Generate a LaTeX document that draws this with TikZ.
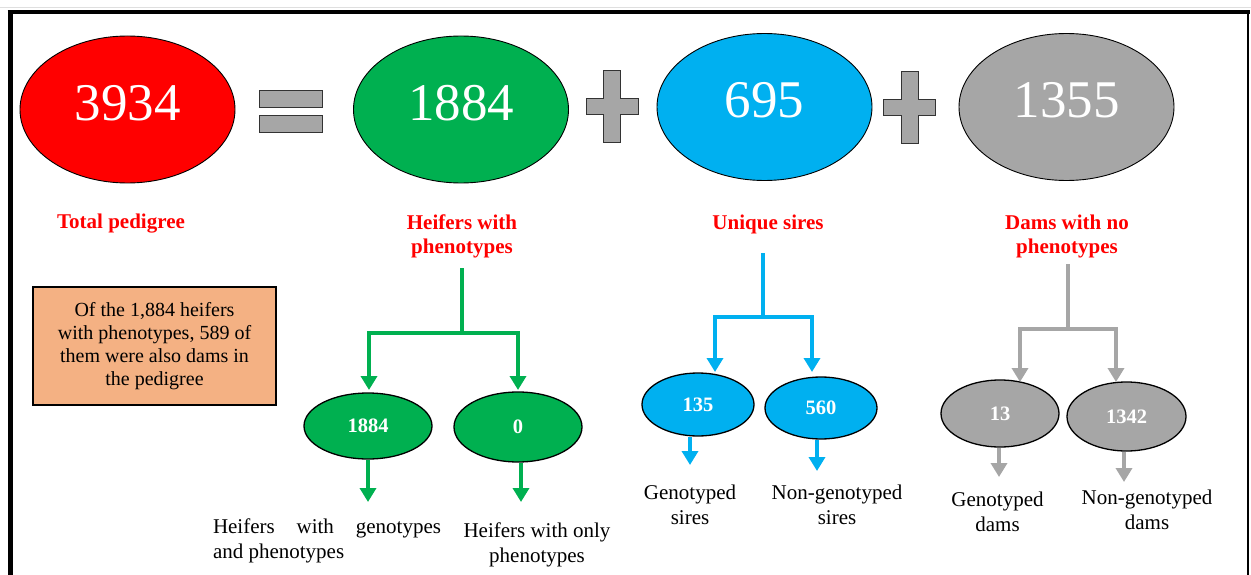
\documentclass[tikz,border=0pt]{standalone}
\usepackage{fontspec}
\setmainfont{Liberation Serif}
\usetikzlibrary{shapes.geometric,arrows.meta}
\definecolor{cRed}{HTML}{FF0000}
\definecolor{cGreen}{HTML}{00B050}
\definecolor{cBlue}{HTML}{00B0F0}
\definecolor{cGrey}{HTML}{A6A6A6}
\definecolor{cSalmon}{HTML}{F4B183}
\begin{document}
\begin{tikzpicture}[x=1pt,y=-1pt,
  bigoval/.style={ellipse, draw=black, line width=0.9pt, inner sep=0pt,
    minimum width=215pt, minimum height=147pt, text=white,
    font=\fontsize{53}{60}\selectfont},
  smalloval/.style={ellipse, draw=black, line width=1.3pt, inner sep=0pt,
    text=white, font=\bfseries\fontsize{20.5}{24}\selectfont},
  headlabel/.style={text=cRed, font=\bfseries\fontsize{21}{24}\selectfont,
    align=center, inner sep=0pt},
  leaflabel/.style={text=black, font=\fontsize{21}{25}\selectfont,
    align=center, inner sep=0pt},
  branch/.style={line width=3.5pt, -{Triangle[width=16pt,length=14pt]}},
  opsym/.style={fill=cGrey, draw=black!80, line width=1pt},
  plussign/.pic={\path[opsym] (-8.5,-36) -- (8.5,-36) -- (8.5,-8) -- (26,-8)
    -- (26,8) -- (8.5,8) -- (8.5,36) -- (-8.5,36) -- (-8.5,8) -- (-26,8)
    -- (-26,-8) -- (-8.5,-8) -- cycle;}
]
\useasboundingbox (0,0) rectangle (1251,575);

% frame
\draw[gray!25, line width=1pt] (0,7.5) -- (1251,7.5);
\draw[line width=5pt] (10,10.5) -- (10,580);
\draw[line width=4pt] (7.5,12.5) -- (1249.5,12.5);
\draw[line width=2.5pt] (1248,11) -- (1248,580);

% totals
\node[bigoval, fill=cRed]   (e0) at (127.5,109.5) {\raisebox{14pt}{3934}};
\node[bigoval, fill=cGreen] (e1) at (461,109.5)   {\raisebox{14pt}{1884}};
\node[bigoval, fill=cBlue]  (e2) at (764.5,107)   {\raisebox{14pt}{695}};
\node[bigoval, fill=cGrey]  (e3) at (1066.5,107)  {\raisebox{14pt}{1355}};

% operators
\path[opsym] (259,91) rectangle (322,108);
\path[opsym] (259,116) rectangle (322,133);
\pic at (612,107) {plussign};
\pic at (909.5,107.5) {plussign};

% headings
\node[headlabel] (tl) at (121,224)  {Total pedigree};
\node[headlabel] (hl) at (462,236)  {Heifers with\\phenotypes};
\node[headlabel] (ul) at (768,224)  {Unique sires};
\node[headlabel] (dl) at (1067,236) {Dams with no\\phenotypes};

% note
\node[draw=black, line width=2pt, fill=cSalmon, minimum width=243pt,
  minimum height=118pt, align=center, inner sep=0pt,
  font=\fontsize{20}{23}\selectfont] (note) at (154.5,346)
  {Of the 1,884 heifers\\with phenotypes, 589 of\\them were also dams in\\the pedigree};

% subgroups
\node[smalloval, fill=cGreen, minimum width=128pt, minimum height=66pt] (g1) at (368,426)    {1884};
\node[smalloval, fill=cGreen, minimum width=128pt, minimum height=70pt] (g2) at (518,427)    {0};
\node[smalloval, fill=cBlue,  minimum width=112pt, minimum height=63pt] (s1) at (698,404.5)  {135};
\node[smalloval, fill=cBlue,  minimum width=112pt, minimum height=62pt] (s2) at (821,408)    {560};
\node[smalloval, fill=cGrey,  minimum width=118pt, minimum height=67pt] (d1) at (1000,413.5) {13};
\node[smalloval, fill=cGrey,  minimum width=119pt, minimum height=69pt] (d2) at (1126.5,416.5) {1342};

% leaf descriptions
\node[leaflabel, align=left] (gl1) at (327,541)
  {\makebox[228pt][s]{Heifers with genotypes}\\and phenotypes};
\node[leaflabel] (gl2) at (537,544.5)  {Heifers with only\\phenotypes};
\node[leaflabel] (sl1) at (690,504.5)  {Genotyped\\sires};
\node[leaflabel] (sl2) at (837,504.5)  {Non-genotyped\\sires};
\node[leaflabel] (dl1) at (997.5,511.5) {Genotyped\\dams};
\node[leaflabel] (dl2) at (1147,510)   {Non-genotyped\\dams};

% heifer branch
\coordinate (gTop) at (462,268);  \coordinate (gJoin) at (462,333);
\coordinate (g1in) at (369,390);  \coordinate (g2in) at (518,390);
\coordinate (g1out) at (368,502); \coordinate (g2out) at (521,502);
\draw[cGreen, line width=3.5pt] (gTop) -- (gJoin);
\draw[cGreen, branch] (gJoin) -| (g1in);
\draw[cGreen, branch] (gJoin) -| (g2in);
\draw[cGreen, branch] (g1.south -| g1out) -- (g1out);
\draw[cGreen, branch] (g2.south -| g2out) -- (g2out);

% sire branch
\coordinate (sTop) at (763,253);  \coordinate (sJoin) at (763,317);
\coordinate (s1in) at (715,372);  \coordinate (s2in) at (812,372);
\coordinate (s1out) at (690,465); \coordinate (s2out) at (817,471);
\draw[cBlue, line width=3.5pt] (sTop) -- (sJoin);
\draw[cBlue, branch] (sJoin) -| (s1in);
\draw[cBlue, branch] (sJoin) -| (s2in);
\draw[cBlue, branch] (s1.south -| s1out) -- (s1out);
\draw[cBlue, branch] (s2.south -| s2out) -- (s2out);

% dam branch
\coordinate (dTop) at (1068,264);  \coordinate (dJoin) at (1068,329);
\coordinate (d1in) at (1020,382);  \coordinate (d2in) at (1116,382);
\coordinate (d1out) at (999,477);  \coordinate (d2out) at (1124,482);
\draw[cGrey, line width=3.5pt] (dTop) -- (dJoin);
\draw[cGrey, branch] (dJoin) -| (d1in);
\draw[cGrey, branch] (dJoin) -| (d2in);
\draw[cGrey, branch] (d1.south -| d1out) -- (d1out);
\draw[cGrey, branch] (d2.south -| d2out) -- (d2out);
\end{tikzpicture}
\end{document}
